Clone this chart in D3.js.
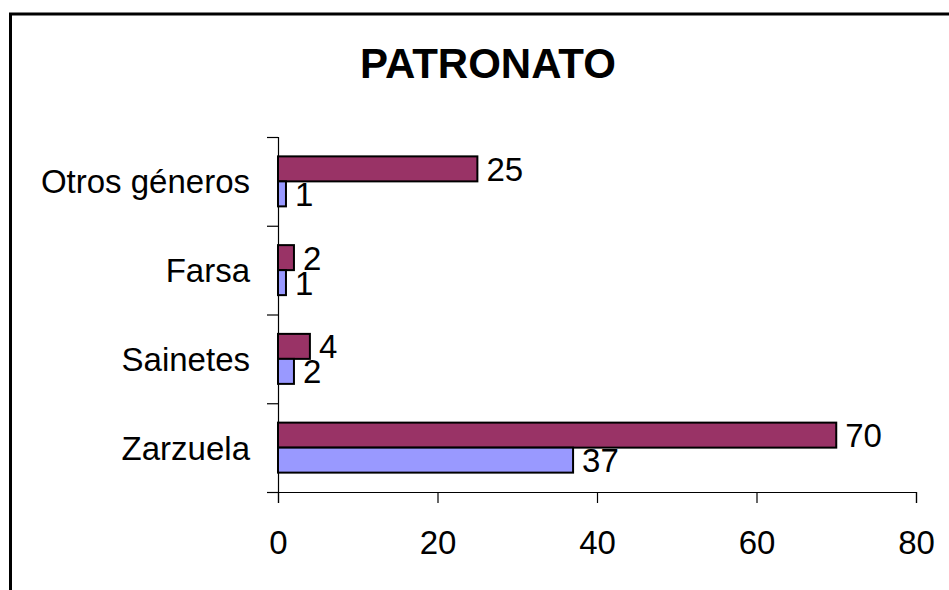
<!DOCTYPE html>
<html>
<head>
<meta charset="utf-8">
<script src="https://cdn.jsdelivr.net/npm/d3@7"></script>
<style>
  body { margin: 0; background: #fff; }
  svg { display: block; font-family: "Liberation Sans", Arial, sans-serif; }
</style>
</head>
<body>
<div id="chart"></div>
<script>
// chart data
var categories = ["Otros géneros", "Farsa", "Sainetes", "Zarzuela"];
var seriesA = [25, 2, 4, 70];   // maroon bars (top)
var seriesB = [1, 1, 2, 37];    // blue bars (bottom)
var xTicks = [0, 20, 40, 60, 80];

var W = 949, H = 590;
var margin = {top: 137, left: 278, right: 33, bottom: 98};
var width = W - margin.left - margin.right,
    height = H - margin.top - margin.bottom;

var svg = d3.select("#chart").append("svg")
    .attr("width", W)
    .attr("height", H);

// outer frame (runs past right/bottom edge)
svg.append("rect")
    .attr("x", 10.5).attr("y", 14)
    .attr("width", W + 20).attr("height", H + 20)
    .attr("fill", "none")
    .attr("stroke", "#000")
    .attr("stroke-width", 3);

svg.append("text")
    .attr("x", 488).attr("y", 78)
    .attr("text-anchor", "middle")
    .attr("font-size", "42px")
    .attr("font-weight", "bold")
    .text("PATRONATO");

var g = svg.append("g")
    .attr("transform", "translate(" + margin.left + "," + margin.top + ")");

var x = d3.scaleLinear().domain([0, 80]).range([0, width]);
var y = d3.scaleBand().domain(categories).range([0, height]);
var inner = d3.scaleBand().domain(["a", "b"]).range([0, 50]);

// x axis
var xAxis = g.append("g")
    .attr("transform", "translate(0," + height + ")")
    .call(d3.axisBottom(x).tickValues(xTicks).tickSize(11).tickPadding(28));
xAxis.selectAll("text").attr("font-size", "33px").attr("fill", "#000").attr("font-family", null);

// y axis: ticks at band edges
var edges = d3.scaleLinear().domain([0, categories.length]).range([0, height]);
var yAxis = g.append("g")
    .call(d3.axisLeft(edges).tickValues(d3.range(categories.length + 1)).tickSize(11).tickFormat(""));

g.selectAll(".domain, .tick line").attr("stroke", "#000").attr("stroke-width", 1.2);

// category labels
g.selectAll(".cat")
    .data(categories)
    .enter()
    .append("text")
    .attr("x", -28)
    .attr("y", function(d) { return y(d) + y.bandwidth() / 2; })
    .attr("dy", "0.36em")
    .attr("text-anchor", "end")
    .attr("font-size", "33px")
    .text(function(d) { return d; });

var rows = categories.map(function(c, i) {
  return [{cat: c, key: "a", v: seriesA[i], color: "#993366"},
          {cat: c, key: "b", v: seriesB[i], color: "#9999FF"}];
}).flat();

var off = (y.bandwidth() - 50) / 2;

g.selectAll(".bar")
    .data(rows)
    .enter()
    .append("rect")
    .attr("x", x(0))
    .attr("y", function(d) { return y(d.cat) + off + inner(d.key); })
    .attr("width", function(d) { return x(d.v) - x(0); })
    .attr("height", inner.bandwidth())
    .attr("fill", function(d) { return d.color; })
    .attr("stroke", "#000")
    .attr("stroke-width", 2);

g.selectAll(".val")
    .data(rows)
    .enter()
    .append("text")
    .attr("x", function(d) { return x(d.v) + 9; })
    .attr("y", function(d) { return y(d.cat) + off + inner(d.key) + inner.bandwidth() / 2; })
    .attr("dy", "0.36em")
    .attr("font-size", "33px")
    .text(function(d) { return d.v; });
</script>
</body>
</html>
